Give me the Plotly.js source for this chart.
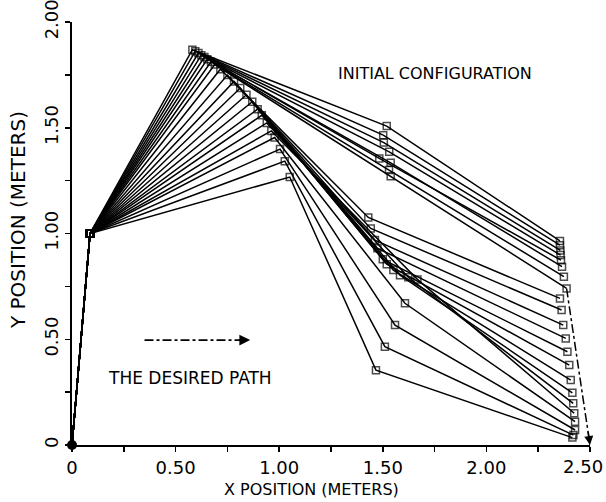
<!DOCTYPE html>
<html>
<head>
<meta charset="utf-8">
<script src="https://cdn.plot.ly/plotly-3.0.1.min.js"></script>
<style>html,body{margin:0;padding:0;background:#fff;}#chart{width:606px;height:502px;}</style>
</head>
<body>
<div id="chart"></div>
<script>
// Fixed base and first joint
const baseX = [0.0], baseY = [0.0];
const j1X = [0.087], j1Y = [1.0];
// Second joint (elbow) for each configuration
const j2x = [0.581,0.595,0.610,0.624,0.639,0.653,0.671,0.689, 0.716,0.750,0.782,0.812,0.842,0.870,0.896,0.916,0.940, 0.962, 0.978,1.004,1.027,1.051];
const j2y = [1.869,1.862,1.853,1.843,1.834,1.824,1.812,1.799, 1.777,1.749,1.719,1.688,1.656,1.623,1.588,1.559,1.523, 1.485, 1.454,1.399,1.342,1.267];
// Third joint
const j3x = [1.519,1.502,1.505,1.531,1.483,1.538,1.530,1.538, 1.430,1.442,1.462,1.474,1.500,1.519,1.551,1.583,1.623, 1.667, 1.607,1.559,1.510,1.467];
const j3y = [1.508,1.465,1.430,1.386,1.355,1.334,1.300,1.271, 1.076,1.024,0.969,0.930,0.878,0.855,0.827,0.803,0.793, 0.783, 0.670,0.567,0.465,0.354];
// End effector
const ex = [2.355,2.355,2.357,2.358,2.360,2.365,2.374,2.387, 2.355,2.363,2.371,2.383,2.391,2.400,2.407,2.415,2.419, 2.424, 2.428,2.428,2.420,2.415];
const ey = [0.965,0.945,0.920,0.898,0.874,0.843,0.796,0.740, 0.693,0.638,0.567,0.504,0.441,0.378,0.307,0.247,0.197, 0.150, 0.110,0.071,0.047,0.035];
// Desired path of the end effector
const pathX = [2.387, 2.5];
const pathY = [0.740, 0.0];
// Axis ticks
const xTickVals = [0,0.25,0.5,0.75,1.0,1.25,1.5,1.75,2.0,2.25,2.5];
const xTickText = ['0','','0.50','','1.00','','1.50','','2.00','',''];
const xLastTickText = '2.50';
const yTickVals = [0,0.25,0.5,0.75,1.0,1.25,1.5,1.75,2.0];
const yTickText = ['0','','0.50','','1.00','','1.50','','2.00'];

const FONT = 'DejaVu Sans, Arial, sans-serif';
const traces = [];
for (let i = 0; i < j2x.length; i++) {
  traces.push({
    type: 'scatter', mode: 'lines+markers',
    x: [baseX[0], j1X[0], j2x[i], j3x[i], ex[i]],
    y: [baseY[0], j1Y[0], j2y[i], j3y[i], ey[i]],
    line: {color: '#000', width: 1.5},
    marker: {symbol: 'square-open', size: [0, 7, 7, 7, 7], color: '#000', line: {width: 1.5, color: '#000'}},
    cliponaxis: false, showlegend: false, hoverinfo: 'skip'
  });
}
traces.push({
  type: 'scatter', mode: 'lines', x: pathX, y: pathY,
  line: {color: '#000', width: 1.5, dash: 'dashdot'},
  cliponaxis: false, showlegend: false, hoverinfo: 'skip'
});
traces.push({
  type: 'scatter', mode: 'lines', x: [0.35, 0.83], y: [0.496, 0.496],
  line: {color: '#000', width: 1.8, dash: 'dashdot'},
  showlegend: false, hoverinfo: 'skip'
});
traces.push({
  type: 'scatter', mode: 'markers', x: baseX, y: baseY,
  marker: {symbol: 'circle', size: 10, color: '#000'},
  cliponaxis: false, showlegend: false, hoverinfo: 'skip'
});

const layout = {
  width: 606, height: 502,
  margin: {l: 72, r: 16, t: 22, b: 57},
  paper_bgcolor: '#fff', plot_bgcolor: '#fff',
  font: {family: FONT, color: '#000', size: 15},
  xaxis: {
    range: [0, 2.5], showgrid: false, zeroline: false,
    showline: true, linecolor: '#000', linewidth: 2,
    ticks: 'outside', ticklen: 5, tickwidth: 1.5, tickcolor: '#000',
    tickvals: xTickVals, ticktext: xTickText, ticklabeloverflow: 'allow',
    tickfont: {size: 18}
  },
  yaxis: {
    range: [0, 2.0], showgrid: false, zeroline: false,
    showline: true, linecolor: '#000', linewidth: 2,
    ticks: 'outside', ticklen: 5, tickwidth: 1.5, tickcolor: '#000',
    tickvals: yTickVals, ticktext: yTickText, tickangle: -90, ticklabeloverflow: 'allow',
    tickfont: {size: 18}
  },
  annotations: [
    {x: 2.5, y: -0.052, xref: 'x', yref: 'paper', text: xLastTickText, showarrow: false,
     font: {size: 18}, xanchor: 'right', yanchor: 'middle', xshift: 15},
    {x: 0.463, y: -0.106, xref: 'paper', yref: 'paper', text: 'X POSITION (METERS)', showarrow: false,
     font: {size: 16}, xanchor: 'center', yanchor: 'middle'},
    {x: -0.104, y: 0.532, xref: 'paper', yref: 'paper', text: 'Y POSITION (METERS)', showarrow: false,
     textangle: -90, font: {size: 20}, xanchor: 'center', yanchor: 'middle'},
    {x: 1.75, y: 1.758, xref: 'x', yref: 'y', text: 'INITIAL CONFIGURATION', showarrow: false, font: {size: 16}},
    {x: 0.57, y: 0.317, xref: 'x', yref: 'y', text: 'THE DESIRED PATH', showarrow: false, font: {size: 17}},
    {x: 0.86, y: 0.496, ax: 0.80, ay: 0.496, xref: 'x', yref: 'y', axref: 'x', ayref: 'y',
     text: '', showarrow: true, arrowhead: 2, arrowsize: 1.2, arrowwidth: 1.8, arrowcolor: '#000'},
    {x: 2.5, y: 0.0, ax: 2.49, ay: 0.07, xref: 'x', yref: 'y', axref: 'x', ayref: 'y',
     text: '', showarrow: true, arrowhead: 2, arrowsize: 1.2, arrowwidth: 1.5, arrowcolor: '#000'}
  ]
};
Plotly.newPlot('chart', traces, layout, {displayModeBar: false, staticPlot: true});
</script>
</body>
</html>
